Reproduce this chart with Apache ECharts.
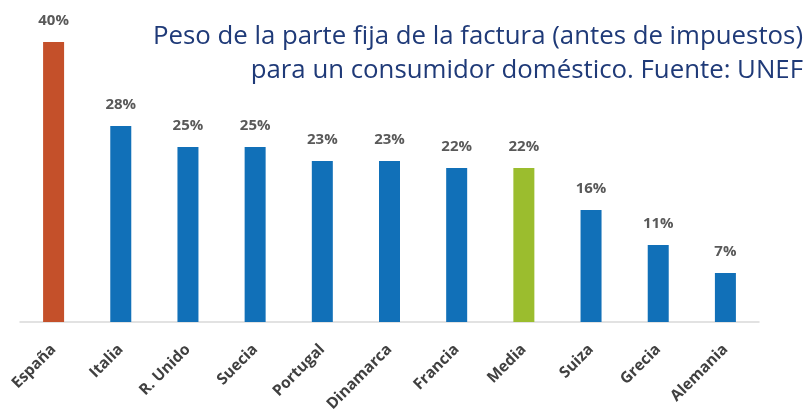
<!DOCTYPE html>
<html><head><meta charset="utf-8">
<script src="https://cdn.jsdelivr.net/npm/echarts@6/dist/echarts.min.js"></script>
<style>html,body{margin:0;padding:0;background:#fff}#c{width:805px;height:410px}</style>
</head><body><div id="c"></div>
<script>
const categories = ["España","Italia","R. Unido","Suecia","Portugal","Dinamarca","Francia","Media","Suiza","Grecia","Alemania"];
const values = [40,28,25,25,23,23,22,22,16,11,7];
const barColors = ["#C4502A","#1170B8","#1170B8","#1170B8","#1170B8","#1170B8","#1170B8","#9BBD2E","#1170B8","#1170B8","#1170B8"];
const titleLines = ["Peso de la parte fija de la factura (antes de impuestos)","para un consumidor doméstico. Fuente: UNEF"];

const tStyle = {fontFamily:'Open Sans',fontWeight:'normal',fontSize:25.8,color:'#1F3A78'};
const chart = echarts.init(document.getElementById('c'));
chart.setOption({
  animation:false,
  title:[
    {text:titleLines[0], right:2, top:24, padding:0, textStyle:tStyle},
    {text:titleLines[1], right:2, top:58, padding:0, textStyle:tStyle}
  ],
  grid:{left:20,right:46,top:42,bottom:88,outerBoundsMode:'none',containLabel:false},
  xAxis:{type:'category',data:categories,
    axisLine:{lineStyle:{color:'#D9D9D9',width:1.5}},axisTick:{show:false},
    axisLabel:{rotate:45,interval:0,fontFamily:'Open Sans',fontWeight:'bold',fontSize:15.5,color:'#404040',margin:25}},
  yAxis:{type:'value',min:0,max:40,show:false,splitLine:{show:false}},
  series:[{type:'bar',barWidth:21,
    data:values.map((v,i)=>({value:v,itemStyle:{color:barColors[i]}})),
    label:{show:true,position:'top',distance:14,formatter:p=>p.value+'%',fontFamily:'Open Sans',fontWeight:'bold',fontSize:15,color:'#595959'}}]
});
</script></body></html>
